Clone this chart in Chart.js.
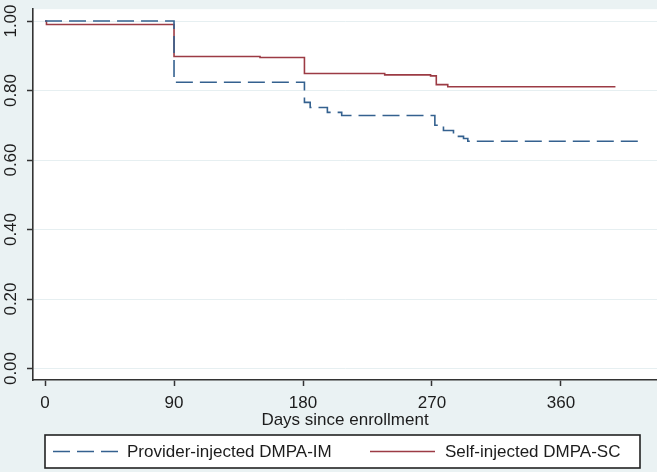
<!DOCTYPE html>
<html lang="en">
<head>
<meta charset="UTF-8" />
<title>Continuation: DMPA-IM vs DMPA-SC</title>
<script src="https://cdn.jsdelivr.net/npm/chart.js@4"></script>
<style>
  html, body { margin: 0; padding: 0; background: #eaf2f3; }
</style>
</head>
<body>
<canvas id="km" width="657" height="472"></canvas>
<script>
// tick labels
const xTicks = [0, 90, 180, 270, 360]
const yTicks = [0, 0.2, 0.4, 0.6, 0.8, 1.0]

// Provider-injected DMPA-IM
const imDays = [0, 90, 181, 185, 197, 207, 272, 278, 285, 292, 295, 417]
const imSurv = [1.00, 0.824, 0.766, 0.751, 0.737, 0.728, 0.700, 0.685, 0.668, 0.662, 0.654, 0.654]

// Self-injected DMPA-SC
const scDays = [0, 1, 90, 150, 181, 237, 269, 273, 281, 398]
const scSurv = [1.00, 0.990, 0.898, 0.895, 0.849, 0.845, 0.842, 0.817, 0.811, 0.811]

const FONT = { family: "'Liberation Sans', Arial, sans-serif", size: 17 }
const INK = '#1c1c1c'

function points(days, surv) {
  return days.map((d, i) => ({ x: d, y: surv[i] }))
}

// light blue page, white plot region
const bgPlugin = {
  id: 'bg',
  beforeDraw(chart) {
    const { ctx, chartArea: a } = chart
    ctx.save()
    ctx.fillStyle = '#eaf2f3'
    ctx.fillRect(0, 0, chart.width, chart.height)
    ctx.fillStyle = '#ffffff'
    ctx.fillRect(a.left, a.top, a.right - a.left, a.bottom - a.top)
    ctx.restore()
  }
}

// boxed legend under the axis, stata style
const legendBox = {
  id: 'legendBox',
  afterDraw(chart) {
    const ctx = chart.ctx
    const box = { l: 45, t: 435, r: 640, b: 468 }
    const y = (box.t + box.b) / 2
    const items = [
      { x1: 53, x2: 118, tx: 127 },
      { x1: 370, x2: 435, tx: 445 }
    ]
    ctx.save()
    ctx.fillStyle = '#ffffff'
    ctx.fillRect(box.l, box.t, box.r - box.l, box.b - box.t)
    ctx.strokeStyle = '#222'
    ctx.lineWidth = 1.6
    ctx.strokeRect(box.l, box.t, box.r - box.l, box.b - box.t)
    chart.data.datasets.forEach((ds, i) => {
      const it = items[i]
      ctx.beginPath()
      ctx.setLineDash(ds.borderDash || [])
      ctx.strokeStyle = ds.borderColor
      ctx.lineWidth = ds.borderWidth
      ctx.moveTo(it.x1, y)
      ctx.lineTo(it.x2, y)
      ctx.stroke()
      ctx.setLineDash([])
      ctx.fillStyle = INK
      ctx.font = FONT.size + 'px ' + FONT.family
      ctx.textBaseline = 'middle'
      ctx.textAlign = 'left'
      ctx.fillText(ds.label, it.tx, y + 1)
    })
    ctx.restore()
  }
}

const ctx = document.getElementById('km').getContext('2d')
new Chart(ctx, {
  type: 'line',
  data: {
    datasets: [
      {
        label: 'Provider-injected DMPA-IM',
        data: points(imDays, imSurv),
        borderColor: '#34618f',
        borderWidth: 1.6,
        borderDash: [17, 7],
        stepped: true,
        pointRadius: 0,
        fill: false
      },
      {
        label: 'Self-injected DMPA-SC',
        data: points(scDays, scSurv),
        borderColor: '#9c3b44',
        borderWidth: 1.6,
        stepped: true,
        pointRadius: 0,
        fill: false
      }
    ]
  },
  options: {
    responsive: false,
    animation: false,
    layout: { padding: { top: 9, right: 0, bottom: 37, left: 0 } },
    plugins: { legend: { display: false }, tooltip: { enabled: false } },
    scales: {
      x: {
        type: 'linear',
        min: -8.4,
        max: 427,
        afterBuildTicks: s => { s.ticks = xTicks.map(v => ({ value: v })) },
        afterFit: s => { s.height = 55 },
        grid: { drawOnChartArea: false, tickLength: 6, tickColor: '#333', tickWidth: 1.5 },
        border: { color: '#333', width: 1.6 },
        ticks: { color: INK, font: FONT, padding: 7, maxRotation: 0, callback: v => String(v) },
        title: { display: true, text: 'Days since enrollment', color: INK, font: FONT, padding: { top: 0, bottom: 4 } }
      },
      y: {
        min: -0.033,
        max: 1.034,
        afterBuildTicks: s => { s.ticks = yTicks.map(v => ({ value: v })) },
        afterFit: s => { s.width = 33 },
        grid: { color: '#e6eff1', lineWidth: 1, tickLength: 6, tickColor: '#333', tickWidth: 1.5 },
        border: { color: '#333', width: 1.6 },
        ticks: {
          color: INK, font: FONT, padding: -1,
          minRotation: 90, maxRotation: 90, crossAlign: 'center',
          callback: v => v.toFixed(2)
        }
      }
    }
  },
  plugins: [bgPlugin, legendBox]
})
</script>
</body>
</html>
